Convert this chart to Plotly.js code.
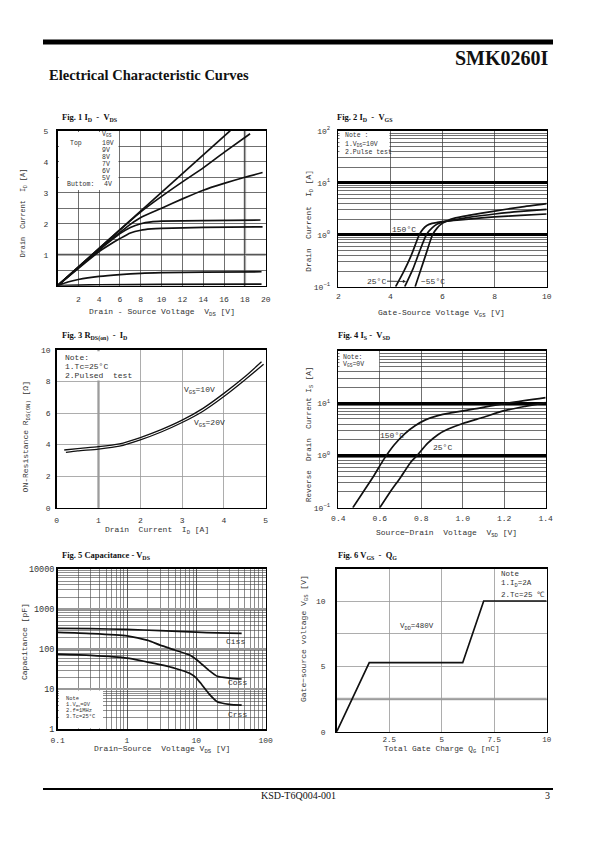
<!DOCTYPE html>
<html><head><meta charset="utf-8">
<script src="https://cdn.plot.ly/plotly-3.0.1.min.js"></script>
<style>html,body{margin:0;padding:0;background:#fff}#chart{width:595px;height:842px}</style>
</head><body><div id="chart"></div>
<script>
// ---------- Fig.1 ID - VDS (VGS = 10V ... 4V) ----------
const f1_labels = ['10V','9V','8V','7V','6V','5V','4V'];
const f1_x_10V = [0, 4, 8, 12, 16.6];
const f1_y_10V = [0, 1.2, 2.41, 3.61, 5.0];
const f1_x_9V = [0, 4, 6, 8, 10, 12, 14, 16, 18.5];
const f1_y_9V = [0, 1.2, 1.8, 2.38, 2.88, 3.35, 3.8, 4.3, 4.9];
const f1_x_8V = [0, 4, 6, 7, 8, 10, 12, 14, 16, 18, 19.7];
const f1_y_8V = [0, 1.18, 1.72, 1.98, 2.2, 2.5, 2.8, 3.08, 3.3, 3.5, 3.65];
const f1_x_7V = [0, 4, 5, 6, 7, 8, 9, 10, 14, 19.5];
const f1_y_7V = [0, 1.15, 1.42, 1.68, 1.88, 2.0, 2.06, 2.08, 2.1, 2.12];
const f1_x_6V = [0, 4, 5, 6, 7, 8, 9, 10, 14, 19.7];
const f1_y_6V = [0, 1.1, 1.32, 1.52, 1.7, 1.79, 1.83, 1.85, 1.88, 1.9];
const f1_x_5V = [0, 1, 2, 4, 6, 8, 10, 14, 19.6];
const f1_y_5V = [0, 0.12, 0.2, 0.3, 0.36, 0.4, 0.42, 0.44, 0.45];
const f1_x_4V = [0, 2, 4, 10, 19.6];
const f1_y_4V = [0, 0.02, 0.03, 0.04, 0.05];
const f1_xticks = [2, 4, 6, 8, 10, 12, 14, 16, 18, 20];
const f1_yticks = [1, 2, 3, 4, 5];

// ---------- Fig.2 ID - VGS ----------
const f2_x_150 = [4.2, 4.5, 4.8, 5.11, 5.25, 5.4, 5.6, 5.8, 6.13, 7, 8, 9, 10];
const f2_y_150 = [0.1, 0.19, 0.4, 1.0, 1.28, 1.5, 1.65, 1.72, 1.82, 2.0, 2.2, 2.35, 2.5];
const f2_x_25 = [4.55, 4.85, 5.1, 5.38, 5.6, 5.8, 6.0, 6.13, 7, 8, 9, 10];
const f2_y_25 = [0.1, 0.21, 0.45, 1.0, 1.35, 1.6, 1.74, 1.8, 2.15, 2.5, 2.8, 3.07];
const f2_x_m55 = [4.95, 5.15, 5.35, 5.62, 5.8, 5.95, 6.13, 6.5, 7, 8, 9, 10];
const f2_y_m55 = [0.1, 0.2, 0.4, 1.0, 1.35, 1.6, 1.8, 2.1, 2.35, 2.85, 3.4, 3.95];
const f2_xticks = [2, 4, 6, 8, 10];
const f2_yticks = [0.1, 1, 10, 100];
const f2_yticktext = ['10<sup>−1</sup>', '10<sup>0</sup>', '10<sup>1</sup>', '10<sup>2</sup>'];

// ---------- Fig.3 RDS(on) - ID ----------
const f3_x_10V = [0.18, 0.5, 1, 1.5, 2, 2.5, 3, 3.5, 4, 4.5, 4.9];
const f3_y_10V = [3.66, 3.75, 3.87, 4.05, 4.45, 4.95, 5.55, 6.3, 7.25, 8.3, 9.25];
const f3_x_20V = [0.22, 0.5, 1, 1.5, 2, 2.5, 3, 3.5, 4, 4.5, 4.95];
const f3_y_20V = [3.51, 3.6, 3.72, 3.9, 4.3, 4.8, 5.4, 6.12, 7.05, 8.1, 9.1];
const f3_xticks = [0, 1, 2, 3, 4, 5];
const f3_yticks = [0, 2, 4, 6, 8, 10];

// ---------- Fig.4 IS - VSD ----------
const f4_x_150 = [0.47, 0.52, 0.57, 0.62, 0.67, 0.72, 0.77, 0.82, 0.88, 0.95, 1.05, 1.2, 1.4];
const f4_y_150 = [0.1, 0.2, 0.4, 0.85, 1.6, 2.6, 3.7, 4.8, 5.8, 6.6, 7.7, 9.8, 12.8];
const f4_x_25 = [0.6, 0.65, 0.7, 0.75, 0.78, 0.83, 0.88, 0.93, 1.0, 1.1, 1.2, 1.3, 1.4];
const f4_y_25 = [0.1, 0.2, 0.38, 0.75, 1.0, 1.7, 2.5, 3.2, 4.1, 5.4, 7.2, 8.7, 10.3];
const f4_xticks = [0.4, 0.6, 0.8, 1.0, 1.2, 1.4];
const f4_xticktext = ['0.4', '0.6', '0.8', '1.0', '1.2', '1.4'];
const f4_yticks = [0.1, 1, 10];
const f4_yticktext = ['10<sup>−1</sup>', '10<sup>0</sup>', '10<sup>1</sup>'];

// ---------- Fig.5 Capacitance - VDS ----------
const f5_x_ciss = [0.1, 0.3, 1, 3, 10, 20, 45];
const f5_y_ciss = [330, 325, 310, 290, 265, 255, 248];
const f5_x_coss = [0.1, 0.3, 1, 2, 3, 5, 8, 10, 12, 15, 20, 30, 45];
const f5_y_coss = [261, 245, 215, 165, 126, 94, 71, 55, 42, 30, 21, 19, 18];
const f5_x_crss = [0.1, 0.3, 1, 3, 5, 8, 10, 12, 15, 20, 30, 45];
const f5_y_crss = [75, 70, 60, 41, 33, 25, 19, 13, 7.9, 4.9, 4.2, 4.0];
const f5_xticks = [0.1, 1, 10, 100];
const f5_xticktext = ['0.1', '1', '10', '100'];
const f5_yticks = [1, 10, 100, 1000, 10000];
const f5_yticktext = ['1', '10', '100', '1000', '10000'];

// ---------- Fig.6 VGS - QG ----------
const f6_x = [0, 1.55, 6.0, 7.0, 10];
const f6_y = [0, 5.28, 5.28, 10.0, 10.0];
const f6_xticks = [2.5, 5, 7.5, 10];
const f6_xticktext = ['2.5', '5', '7.5', '10'];
const f6_yticks = [0, 5, 10];

// ---------- helpers ----------
const MONO = 'Liberation Mono, Courier New, monospace';
const SERIF = 'Liberation Serif, Times New Roman, serif';
const W = 595, H = 842;
const PX = x => x / W, PY = y => 1 - y / H;
const domX = (a, b) => [a / W, b / W];
const domY = (top, bot) => [1 - bot / H, 1 - top / H];
function logMinor(lo, hi) { const v = []; for (let e = lo; e < hi; e++) for (let m = 2; m <= 9; m++) v.push(m * Math.pow(10, e)); return v; }
function axis(o) {
  return Object.assign({
    showline: true, mirror: true, linecolor: '#000', linewidth: 1.6, zeroline: false,
    showgrid: true, gridcolor: '#333', gridwidth: 0.7, ticks: 'outside', tickcolor: 'rgba(0,0,0,0)',
    tickfont: {family: MONO, size: 8, color: '#333'}, fixedrange: true, tickmode: 'array'
  }, o);
}
function curve(x, y, xa, ya, extra) {
  return Object.assign({type: 'scatter', mode: 'lines', x: x, y: y, xaxis: xa, yaxis: ya,
    line: {color: '#111', width: 1.7, shape: 'spline', smoothing: 0.6}, hoverinfo: 'skip'}, extra || {});
}
function txt(text, xp, yp, o) {
  return Object.assign({text: text, xref: 'paper', yref: 'paper', x: PX(xp), y: PY(yp), showarrow: false,
    xanchor: 'left', yanchor: 'middle', font: {family: MONO, size: 8, color: '#333'}}, o || {});
}
function dtxt(text, xa, ya, x, y, o) {
  return Object.assign({text: text, xref: xa, yref: ya, x: x, y: y, showarrow: false,
    xanchor: 'center', yanchor: 'middle', font: {family: MONO, size: 8, color: '#333'}}, o || {});
}
function whiteBox(x0, y0, x1, y1) {
  return {type: 'rect', xref: 'paper', yref: 'paper', x0: PX(x0), x1: PX(x1), y0: PY(y1), y1: PY(y0),
    fillcolor: '#fff', line: {width: 0}, layer: 'above'};
}
function grayLine(o) { return Object.assign({type: 'line', line: {color: '#aaa', width: 2.5}, layer: 'below'}, o); }

const NF = {family: MONO, size: 6.5, color: '#333'};
const NF5 = {family: MONO, size: 5.4, color: '#333'};

// ---------- traces ----------
const data = [
  curve(f1_x_10V, f1_y_10V, 'x', 'y', {line: {color: '#111', width: 1.7}}),
  curve(f1_x_9V, f1_y_9V, 'x', 'y'),
  curve(f1_x_8V, f1_y_8V, 'x', 'y'),
  curve(f1_x_7V, f1_y_7V, 'x', 'y'),
  curve(f1_x_6V, f1_y_6V, 'x', 'y'),
  curve(f1_x_5V, f1_y_5V, 'x', 'y'),
  curve(f1_x_4V, f1_y_4V, 'x', 'y'),
  curve(f2_x_150, f2_y_150, 'x2', 'y2'),
  curve(f2_x_25, f2_y_25, 'x2', 'y2'),
  curve(f2_x_m55, f2_y_m55, 'x2', 'y2'),
  curve(f3_x_10V, f3_y_10V, 'x3', 'y3', {line: {color: '#111', width: 1.3, shape: 'spline', smoothing: 0.6}}),
  curve(f3_x_20V, f3_y_20V, 'x3', 'y3', {line: {color: '#111', width: 1.3, shape: 'spline', smoothing: 0.6}}),
  curve(f4_x_150, f4_y_150, 'x4', 'y4'),
  curve(f4_x_25, f4_y_25, 'x4', 'y4'),
  curve(f5_x_ciss, f5_y_ciss, 'x5', 'y5'),
  curve(f5_x_coss, f5_y_coss, 'x5', 'y5'),
  curve(f5_x_crss, f5_y_crss, 'x5', 'y5'),
  curve(f6_x, f6_y, 'x6', 'y6', {line: {color: '#111', width: 1.7}})
];

// ---------- layout ----------
const layout = {
  width: W, height: H, margin: {l: 0, r: 0, t: 0, b: 0}, showlegend: false,
  paper_bgcolor: '#fff', plot_bgcolor: '#fff',
  xaxis: axis({domain: domX(57.5, 265.7), anchor: 'y', range: [0, 20], tickvals: f1_xticks, ticklen: 5}),
  yaxis: axis({domain: domY(130.7, 285.7), anchor: 'x', range: [0, 5], tickvals: f1_yticks, ticklen: 6,
    minor: {tickvals: [0.5, 1.5, 2.5, 3.5, 4.5], showgrid: true, gridcolor: '#333', gridwidth: 0.7, ticks: ''}}),
  xaxis2: axis({domain: domX(338.3, 546.7), anchor: 'y2', range: [2, 10], tickvals: f2_xticks, ticklen: 1}),
  yaxis2: axis({domain: domY(130.7, 286.7), anchor: 'x2', type: 'log', range: [-1, 2], tickvals: f2_yticks,
    ticktext: f2_yticktext, ticklen: 5, gridcolor: '#000', gridwidth: 2.6,
    minor: {tickvals: logMinor(-1, 2), showgrid: true, gridcolor: '#333', gridwidth: 0.7, ticks: ''}}),
  xaxis3: axis({domain: domX(56.7, 265.7), anchor: 'y3', range: [0, 5], tickvals: f3_xticks, ticklen: 4,
    gridcolor: '#999', gridwidth: 0.8}),
  yaxis3: axis({domain: domY(350, 507.7), anchor: 'x3', range: [0, 10], tickvals: f3_yticks, ticklen: 3,
    gridcolor: '#999', gridwidth: 0.8}),
  xaxis4: axis({domain: domX(338.3, 545.7), anchor: 'y4', range: [0.4, 1.4], tickvals: f4_xticks,
    ticktext: f4_xticktext, ticklen: 2}),
  yaxis4: axis({domain: domY(351, 507.7), anchor: 'x4', type: 'log', range: [-1, 2], tickvals: f4_yticks,
    ticktext: f4_yticktext, ticklen: 5, gridcolor: '#000', gridwidth: 2.6,
    minor: {tickvals: logMinor(-1, 2), showgrid: true, gridcolor: '#333', gridwidth: 0.7, ticks: ''}}),
  xaxis5: axis({domain: domX(57.7, 265.7), anchor: 'y5', type: 'log', range: [-1, 2], tickvals: f5_xticks,
    ticktext: f5_xticktext, ticklen: 2, gridcolor: '#333', gridwidth: 0.8,
    minor: {tickvals: logMinor(-1, 2), showgrid: true, gridcolor: '#444', gridwidth: 0.6, ticks: ''}}),
  yaxis5: axis({domain: domY(569, 729.3), anchor: 'x5', type: 'log', range: [0, 4], tickvals: f5_yticks,
    ticktext: f5_yticktext, ticklen: 0, gridcolor: '#999', gridwidth: 2.2,
    tickfont: {family: MONO, size: 8.5, color: '#333'},
    minor: {tickvals: logMinor(0, 4), showgrid: true, gridcolor: '#444', gridwidth: 0.6, ticks: ''}}),
  xaxis6: axis({domain: domX(336.7, 546.7), anchor: 'y6', range: [0, 10], tickvals: f6_xticks,
    ticktext: f6_xticktext, ticklen: 0, gridcolor: '#999', gridwidth: 0.8,
    tickfont: {family: MONO, size: 7.5, color: '#333'}}),
  yaxis6: axis({domain: domY(569, 731.7), anchor: 'x6', range: [0, 12.45], tickvals: f6_yticks, ticklen: 8,
    gridcolor: '#999', gridwidth: 0.8,
    minor: {tickvals: [2.5, 7.5], showgrid: true, gridcolor: '#999', gridwidth: 0.8, ticks: ''}}),
  shapes: [
    {type: 'rect', xref: 'paper', yref: 'paper', x0: PX(43), x1: PX(553), y0: PY(44.5), y1: PY(39.5), fillcolor: '#000', line: {width: 0}},
    {type: 'rect', xref: 'paper', yref: 'paper', x0: PX(43), x1: PX(553), y0: PY(790), y1: PY(788), fillcolor: '#000', line: {width: 0}},
    grayLine({xref: 'x', yref: 'y domain', x0: 18, x1: 18, y0: 0, y1: 1}),
    grayLine({xref: 'x domain', yref: 'y', x0: 0, x1: 1, y0: 1, y1: 1}),
    grayLine({xref: 'x3', yref: 'y3 domain', x0: 1, x1: 1, y0: 0, y1: 1}),
    grayLine({xref: 'x6 domain', yref: 'y6', x0: 0, x1: 1, y0: 2.5, y1: 2.5}),
    whiteBox(59, 132, 118.5, 190),
    whiteBox(339.5, 132, 389.5, 156),
    whiteBox(58, 351.3, 134, 380.5),
    whiteBox(339.5, 352.3, 379.2, 371),
    whiteBox(59, 690.5, 103, 728.3),
    whiteBox(495.2, 570.2, 545.7, 600)
  ],
  annotations: [
    // header / footer
    txt('<b>SMK0260I</b>', 551, 58, {xanchor: 'right', font: {family: SERIF, size: 20, color: '#111'}}),
    txt('<b>Electrical Characteristic Curves</b>', 47, 75, {font: {family: SERIF, size: 14.5, color: '#111'}}),
    txt('KSD-T6Q004-001', 298, 795, {xanchor: 'center', font: {family: SERIF, size: 10, color: '#111'}}),
    txt('3', 552, 795, {xanchor: 'right', font: {family: SERIF, size: 10, color: '#111'}}),
    // figure titles
    txt('<b>Fig. 1 I<sub>D</sub>\u00a0 - \u00a0V<sub>DS</sub></b>', 60, 117, {font: {family: SERIF, size: 8.5, color: '#111'}}),
    txt('<b>Fig. 2 I<sub>D</sub>\u00a0 - \u00a0V<sub>GS</sub></b>', 335, 117, {font: {family: SERIF, size: 8.5, color: '#111'}}),
    txt('<b>Fig. 3 R<sub>DS(on)</sub>\u00a0 - \u00a0I<sub>D</sub></b>', 60, 336, {font: {family: SERIF, size: 8.5, color: '#111'}}),
    txt('<b>Fig. 4 I<sub>S</sub> - \u00a0V<sub>SD</sub></b>', 336, 335, {font: {family: SERIF, size: 8.5, color: '#111'}}),
    txt('<b>Fig. 5 Capacitance - V<sub>DS</sub></b>', 60, 555, {font: {family: SERIF, size: 8.5, color: '#111'}}),
    txt('<b>Fig. 6 V<sub>GS</sub>\u00a0 - \u00a0Q<sub>G</sub></b>', 336, 555, {font: {family: SERIF, size: 8.5, color: '#111'}}),
    // axis titles
    txt('Drain - Source Voltage\u00a0 V<sub>DS</sub> [V]', 162, 312, {xanchor: 'center'}),
    txt('Drain\u00a0 Current\u00a0 I<sub>D</sub> [A]', 23.3, 213, {xanchor: 'center', textangle: -90, font: {family: MONO, size: 6.8, color: '#333'}}),
    txt('Gate-Source Voltage V<sub>GS</sub> [V]', 441, 313, {xanchor: 'center'}),
    txt('Drain\u00a0 Current\u00a0 I<sub>D</sub> [A]', 310, 220.7, {xanchor: 'center', textangle: -90, font: {family: MONO, size: 7.8, color: '#333'}}),
    txt('Drain\u00a0 Current\u00a0 I<sub>D</sub> [A]', 157, 530, {xanchor: 'center'}),
    txt('ON-Resistance R<sub>DS(ON)</sub> [Ω]', 26.7, 436.7, {xanchor: 'center', textangle: -90}),
    txt('Source−Drain\u00a0 Voltage\u00a0 V<sub>SD</sub> [V]', 446, 533, {xanchor: 'center'}),
    txt('Reverse\u00a0 Drain\u00a0 Current I<sub>S</sub> [A]', 310, 435, {xanchor: 'center', textangle: -90, font: {family: MONO, size: 7.6, color: '#333'}}),
    txt('Drain−Source\u00a0 Voltage V<sub>DS</sub> [V]', 162, 749, {xanchor: 'center'}),
    txt('Capacitance [pF]', 24.3, 641.7, {xanchor: 'center', textangle: -90}),
    txt('Total Gate Charge Q<sub>G</sub> [nC]', 441.7, 750, {xanchor: 'center', font: {family: MONO, size: 7.8, color: '#333'}}),
    txt('Gate−source voltage V<sub>GS</sub> [V]', 304, 639, {xanchor: 'center', textangle: -90}),
    // Fig.1 legend
    txt('V<sub>GS</sub>', 99.5, 134.5, {font: NF}),
    txt('Top', 67.5, 143.3, {font: NF}),
    txt('Buttom:', 64.5, 185, {font: NF}),
    // Fig.2 note + labels
    txt('Note :', 342.5, 135.5, {font: NF}),
    txt('1.V<sub>DS</sub>=10V', 342.5, 144, {font: NF}),
    txt('2.Pulse test', 342.5, 152.3, {font: NF}),
    dtxt('150°C', 'x2', 'y2', 4.53, 0.104),
    dtxt('25°C', 'x2', 'y2', 4.6, -0.9, {showarrow: true, ax: -30, ay: -0.5, arrowhead: 2, arrowsize: 0.7, arrowwidth: 0.9, arrowcolor: '#222'}),
    dtxt('−55°C', 'x2', 'y2', 5.62, -0.904),
    // Fig.3 note + labels
    txt('Note:', 63, 357.3),
    txt('1.Tc=25°C', 63, 366.7),
    txt('2.Pulsed\u00a0 test', 63, 376),
    dtxt('V<sub>GS</sub>=10V', 'x3', 'y3', 3.0, 7.46, {xanchor: 'left'}),
    dtxt('V<sub>GS</sub>=20V', 'x3', 'y3', 3.23, 5.37, {xanchor: 'left'}),
    // Fig.4 note + labels
    txt('Note:', 340.5, 357.3, {font: NF}),
    txt('V<sub>GS</sub>=0V', 340.5, 364.3, {font: NF}),
    dtxt('150°C', 'x4', 'y4', 0.659, 0.39),
    dtxt('25°C', 'x4', 'y4', 0.9, 0.16),
    // Fig.5 note + labels
    txt('Note', 63.5, 698.5, {font: NF5}),
    txt('1.V<sub>GS</sub>=0V', 63.5, 704.8, {font: NF5}),
    txt('2.f=1MHz', 63.5, 711.1, {font: NF5}),
    txt('3.Tc=25°C', 63.5, 717.4, {font: NF5}),
    dtxt('Ciss', 'x5', 'y5', 1.571, 2.2),
    dtxt('Coss', 'x5', 'y5', 1.587, 1.18),
    dtxt('Crss', 'x5', 'y5', 1.587, 0.38),
    // Fig.6 note + labels
    txt('Note', 499.3, 574.3, {font: {family: MONO, size: 7.5, color: '#333'}}),
    txt('1.I<sub>D</sub>=2A', 499.3, 584.3, {font: {family: MONO, size: 7.5, color: '#333'}}),
    txt('2.Tc=25 ℃', 499.3, 595, {font: {family: MONO, size: 7.5, color: '#333'}}),
    dtxt('V<sub>DD</sub>=480V', 'x6', 'y6', 3.82, 8.0, {font: {family: MONO, size: 7.5, color: '#333'}})
  ]
};
// Fig.1 legend entries (one line per VGS label)
f1_labels.forEach(function (lab, i) {
  layout.annotations.push(txt(lab, i === 6 ? 101.5 : 99.5, 143.3 + i * 6.95, {font: NF}));
});

Plotly.newPlot('chart', data, layout, {staticPlot: true, displayModeBar: false});
</script>
</body></html>
